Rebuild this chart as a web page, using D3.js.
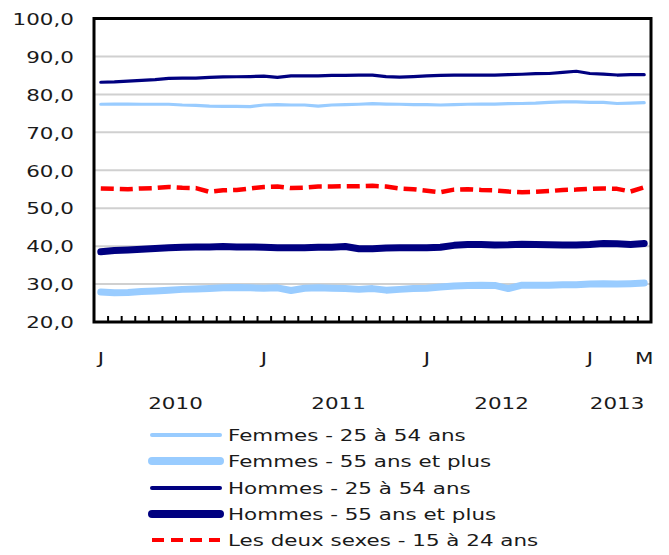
<!DOCTYPE html>
<html>
  <head>
    <meta charset="utf-8">
    <style>
      body { margin: 0; background: #fff; }
      text { font-family: "DejaVu Sans", Verdana, sans-serif; font-size: 16px; fill: #1a1a1a; }
    </style>
  </head>
  <body>
    <script src="https://cdn.jsdelivr.net/npm/d3@7/dist/d3.min.js"></script>
    <script>
    // monthly, Jan 2010 - May 2013
    var months = ["J","F","M","A","M","J","J","A","S","O","N","D",
                  "J","F","M","A","M","J","J","A","S","O","N","D",
                  "J","F","M","A","M","J","J","A","S","O","N","D",
                  "J","F","M","A","M"];
    var monthTicks = [0, 12, 24, 36, 40];
    var years = ["2010", "2011", "2012", "2013"];
    var yearStart = [0, 12, 24, 36];
    var yearEnd = [11, 23, 35, 40];
    var yTicks = [20, 30, 40, 50, 60, 70, 80, 90, 100];

    var femmes2554 = [77.4,77.45,77.45,77.4,77.4,77.4,77.2,77.1,76.9,76.85,
                      76.85,76.75,77.2,77.3,77.2,77.2,76.9,77.2,77.3,77.4,
                      77.55,77.45,77.4,77.3,77.3,77.2,77.3,77.4,77.45,77.45,
                      77.55,77.6,77.7,77.9,78.0,78.0,77.9,77.9,77.6,77.7,77.8];
    var femmes55 = [27.9,27.7,27.8,28.05,28.2,28.4,28.6,28.7,28.85,29.0,
                    29.1,29.0,28.9,29.0,28.3,28.9,29.0,28.9,28.85,28.6,
                    28.8,28.4,28.6,28.8,28.9,29.2,29.5,29.65,29.7,29.65,
                    28.8,29.7,29.7,29.7,29.8,29.8,30.0,30.1,30.0,30.1,30.25];
    var hommes2554 = [83.2,83.3,83.5,83.7,83.9,84.2,84.3,84.3,84.5,84.6,
                      84.65,84.7,84.8,84.5,84.9,84.9,84.9,85.0,85.0,85.1,
                      85.05,84.7,84.55,84.7,84.9,85.0,85.1,85.1,85.1,85.1,
                      85.2,85.3,85.45,85.5,85.8,86.1,85.5,85.35,85.1,85.2,85.2];
    var hommes55 = [38.5,38.85,39.0,39.2,39.4,39.55,39.7,39.8,39.8,39.9,
                    39.8,39.8,39.7,39.6,39.6,39.6,39.7,39.7,39.9,39.3,
                    39.3,39.5,39.55,39.55,39.55,39.7,40.2,40.45,40.45,40.3,
                    40.35,40.5,40.45,40.35,40.3,40.3,40.45,40.7,40.6,40.45,40.7];
    var deuxSexes1524 = [55.2,55.1,55.0,55.2,55.3,55.6,55.4,55.3,54.3,54.7,
                         54.8,55.2,55.6,55.7,55.3,55.4,55.7,55.7,55.8,55.8,
                         55.9,55.7,55.2,55.0,54.6,54.2,54.9,55.0,54.8,54.7,
                         54.4,54.2,54.3,54.5,54.8,54.9,55.1,55.2,55.1,54.4,55.5];

    var seriesNames = ["Femmes - 25 à 54 ans", "Femmes - 55 ans et plus",
                       "Hommes - 25 à 54 ans", "Hommes - 55 ans et plus",
                       "Les deux sexes - 15 à 24 ans"];
    var seriesValues = [femmes2554, femmes55, hommes2554, hommes55, deuxSexes1524];
    var seriesColors = ["#99ccff", "#99ccff", "#000080", "#000080", "#ff0000"];
    var seriesWidths = [3.2, 7, 3.2, 7, 4.5];
    var seriesDash = [null, null, null, null, "13,6"];

    var sx = 1.34; // text is drawn wide
    var plotL = 94, plotR = 651, plotT = 18.5, plotB = 322;

    var svg = d3.select("body").append("svg")
        .attr("width", 669)
        .attr("height", 555);

    var x = d3.scaleBand().domain(d3.range(months.length)).range([plotL, plotR]);
    var xc = function(i) { return x(i) + x.bandwidth() / 2; };
    var xEdge = d3.scaleLinear().domain([0, months.length]).range([plotL, plotR]);
    var y = d3.scaleLinear().domain([20, 100]).range([plotB, plotT]);

    // grid
    svg.append("g")
      .selectAll("line")
      .data(yTicks.slice(1, -1))
      .enter().append("line")
        .attr("x1", plotL).attr("x2", plotR)
        .attr("y1", function(d) { return y(d); })
        .attr("y2", function(d) { return y(d); })
        .attr("stroke", "#d0d0d0")
        .attr("stroke-width", 2);

    // y axis labels
    var yAxis = svg.append("g")
        .attr("transform", "translate(" + plotL + ",0)")
        .call(d3.axisLeft(y).tickValues(yTicks).tickSize(0)
              .tickFormat(function(d) { return d3.format(".1f")(d).replace(".", ","); }));
    yAxis.select(".domain").remove();
    yAxis.selectAll("text")
        .attr("x", -15)
        .attr("dy", "0.36em")
        .attr("transform", "scale(" + sx + ",1)")
        .style("font-size", "16px")
        .style("font-family", "DejaVu Sans, Verdana, sans-serif")
        .attr("fill", "#1a1a1a");

    // series
    var line = d3.line()
        .x(function(d, i) { return xc(i); })
        .y(function(d) { return y(d); });

    seriesValues.forEach(function(vals, k) {
      svg.append("path")
        .datum(vals)
        .attr("fill", "none")
        .attr("stroke", seriesColors[k])
        .attr("stroke-width", seriesWidths[k])
        .attr("stroke-linejoin", "round")
        .attr("stroke-linecap", seriesDash[k] ? "butt" : "round")
        .attr("stroke-dasharray", seriesDash[k])
        .attr("d", line);
    });

    // month tick marks, pointing up from the bottom edge
    var tickAxis = svg.append("g")
        .attr("transform", "translate(0," + (plotB - 1) + ")")
        .call(d3.axisTop(xEdge).tickValues(d3.range(1, months.length)).tickSize(5).tickFormat(""));
    tickAxis.select(".domain").remove();
    tickAxis.selectAll("line").attr("stroke", "#000").attr("stroke-width", 2);

    // frame
    svg.append("rect")
        .attr("x", plotL).attr("y", plotT)
        .attr("width", plotR - plotL).attr("height", plotB - plotT)
        .attr("fill", "none")
        .attr("stroke", "#000")
        .attr("stroke-width", 3);

    // month labels
    var mAxis = svg.append("g")
        .attr("transform", "translate(0," + plotB + ")")
        .call(d3.axisBottom(x).tickValues(monthTicks).tickSize(0)
              .tickFormat(function(i) { return months[i]; }));
    mAxis.select(".domain").remove();
    mAxis.selectAll("text")
        .attr("y", 42)
        .attr("dy", 0)
        .attr("transform", "scale(" + sx + ",1)")
        .style("font-size", "16px")
        .style("font-family", "DejaVu Sans, Verdana, sans-serif")
        .attr("fill", "#1a1a1a");
    mAxis.selectAll(".tick")
        .attr("transform", function(i) { return "translate(" + xc(i) + ",0)"; });

    // year labels
    svg.append("g")
      .selectAll("text")
      .data(years)
      .enter().append("text")
        .attr("text-anchor", "middle")
        .attr("transform", function(d, k) {
          var cx = (xc(yearStart[k]) + xc(yearEnd[k])) / 2;
          return "translate(" + cx + ",409) scale(" + sx + ",1)";
        })
        .text(function(d) { return d; });

    // legend
    var legY = [435, 461, 488, 514, 540];
    var leg = svg.append("g");
    seriesNames.forEach(function(name, k) {
      leg.append("line")
        .attr("x1", 152).attr("x2", 220)
        .attr("y1", legY[k]).attr("y2", legY[k])
        .attr("stroke", seriesColors[k])
        .attr("stroke-width", k % 2 === 1 && k < 4 ? 8 : 4)
        .attr("stroke-linecap", seriesDash[k] ? "butt" : "round")
        .attr("stroke-dasharray", seriesDash[k] ? "12,7" : null);
      leg.append("text")
        .attr("transform", "translate(228," + (legY[k] + 6) + ") scale(" + sx + ",1)")
        .text(name);
    });
    </script>
  </body>
</html>
